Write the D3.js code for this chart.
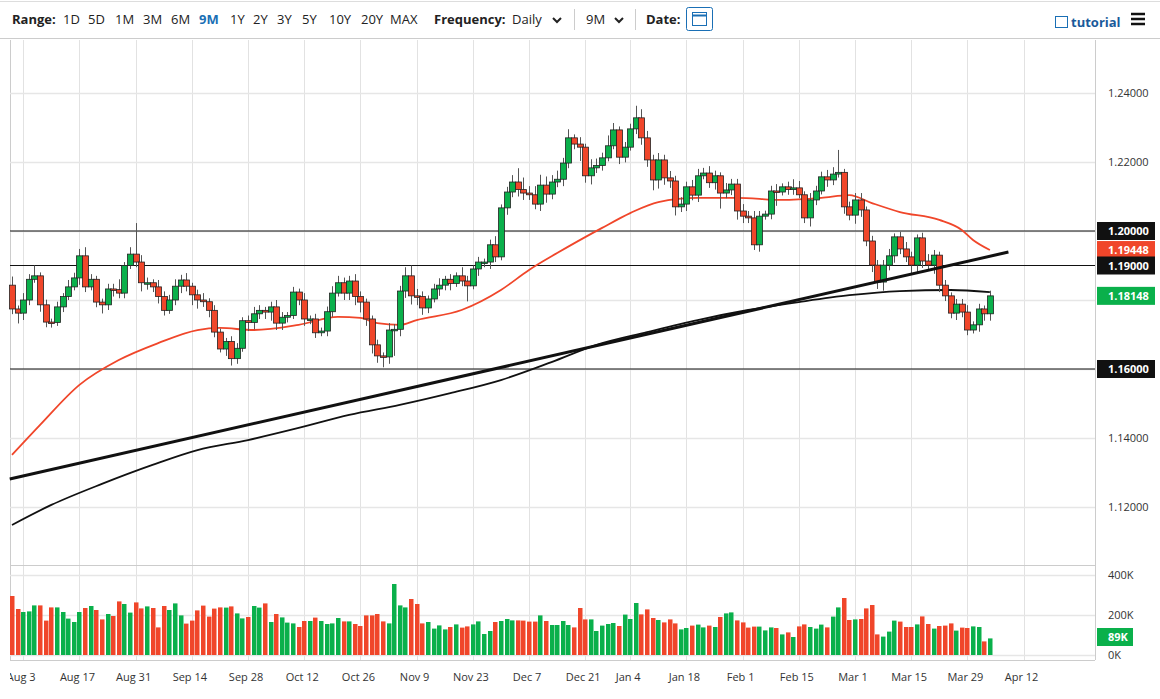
<!DOCTYPE html>
<html>
<head>
<meta charset="utf-8">
<script src="https://cdn.jsdelivr.net/npm/d3@7"></script>
<style>
  body { margin: 0; background: #fff; font-family: "Open Sans", sans-serif; }
  svg text { font-family: "Open Sans", sans-serif; }
</style>
</head>
<body>
<svg id="chart" width="1160" height="699"></svg>
<script>
// daily closes, EUR/USD, Jul 30 2020 .. Apr 2 2021 (trading days)
const firstOpen = 1.1843;
const closes = [
  1.1774, 1.1762, 1.1800, 1.1860, 1.1870, 1.1786, 1.1736, 1.1735, 1.1780, 1.1810,
  1.1838, 1.1864, 1.1928, 1.1838, 1.1860, 1.1794, 1.1786, 1.1832, 1.1830, 1.1820,
  1.1900, 1.1933, 1.1910, 1.1850, 1.1850, 1.1838, 1.1810, 1.1770, 1.1800, 1.1840,
  1.1858, 1.1840, 1.1815, 1.1800, 1.1795, 1.1770, 1.1707, 1.1658, 1.1680, 1.1630,
  1.1660, 1.1740, 1.1735, 1.1760, 1.1770, 1.1765, 1.1780, 1.1733, 1.1750, 1.1755,
  1.1823, 1.1800, 1.1745, 1.1745, 1.1705, 1.1710, 1.1766, 1.1820, 1.1850, 1.1820,
  1.1855, 1.1810, 1.1794, 1.1745, 1.1670, 1.1638, 1.1635, 1.1713, 1.1715, 1.1826,
  1.1870, 1.1812, 1.1810, 1.1777, 1.1803, 1.1832, 1.1843, 1.1860, 1.1848, 1.1870,
  1.1855, 1.1841, 1.1890, 1.1910, 1.1910, 1.1960, 1.1925, 1.2067, 1.2113, 1.2142,
  1.2120, 1.2110, 1.2105, 1.2078, 1.2133, 1.2107, 1.2142, 1.2150, 1.2197, 1.2270,
  1.2252, 1.2243, 1.2160, 1.2183, 1.2190, 1.2212, 1.2247, 1.2293, 1.2214, 1.2243,
  1.2296, 1.2328, 1.2270, 1.2206, 1.2148, 1.2206, 1.2154, 1.2145, 1.2070, 1.2078,
  1.2128, 1.2104, 1.2160, 1.2168, 1.2140, 1.2160, 1.2110, 1.2119, 1.2136, 1.2058,
  1.2043, 1.2038, 1.1960, 1.2043, 1.2049, 1.2116, 1.2113, 1.2128, 1.2120, 1.2125,
  1.2105, 1.2038, 1.2090, 1.2116, 1.2157, 1.2148, 1.2165, 1.2170, 1.2070, 1.2046,
  1.2090, 1.2061, 1.1971, 1.1901, 1.1852, 1.1901, 1.1928, 1.1983, 1.1948, 1.1925,
  1.1901, 1.1980, 1.1913, 1.1901, 1.1930, 1.1843, 1.1812, 1.1762, 1.1788, 1.1765,
  1.1713, 1.1728, 1.1774, 1.1760, 1.1812
];
// wick lengths beyond the body, in pips
const wickUp = [
  25, 10, 20, 15, 30, 10, 15, 10, 15, 10, 20, 15, 20, 25, 15, 10, 10, 15, 15, 30,
  10, 20, 90, 20, 15, 10, 20, 15, 15, 20, 15, 20, 10, 15, 20, 10, 15, 10, 10, 15,
  15, 10, 15, 20, 15, 10, 15, 20, 15, 10, 15, 10, 20, 10, 15, 10, 15, 20, 20, 15,
  15, 20, 15, 10, 10, 15, 10, 20, 15, 15, 25, 30, 20, 15, 10, 15, 20, 10, 15, 10,
  25, 15, 10, 15, 10, 15, 25, 10, 15, 20, 40, 35, 20, 25, 30, 25, 20, 25, 15, 25,
  10, 20, 10, 25, 20, 15, 30, 20, 10, 15, 15, 35, 25, 20, 15, 20, 15, 20, 15, 20,
  15, 20, 20, 15, 20, 15, 10, 20, 15, 15, 20, 15, 20, 15, 10, 15, 20, 10, 15, 25,
  20, 10, 20, 15, 15, 20, 20, 65, 10, 15, 20, 20, 10, 15, 15, 15, 20, 10, 15, 20,
  15, 10, 15, 20, 15, 10, 15, 10, 15, 15, 20, 10, 15, 10, 15
];
const wickDn = [
  15, 30, 20, 15, 10, 20, 15, 15, 10, 15, 10, 10, 20, 15, 10, 15, 25, 15, 20, 15,
  15, 10, 15, 25, 20, 15, 20, 15, 10, 15, 20, 15, 30, 25, 15, 20, 15, 10, 20, 20,
  15, 10, 25, 20, 15, 20, 25, 20, 20, 15, 10, 15, 20, 15, 15, 10, 15, 15, 10, 20,
  20, 25, 30, 20, 25, 20, 30, 20, 75, 20, 20, 25, 25, 20, 15, 10, 20, 15, 20, 10,
  15, 45, 10, 20, 15, 20, 15, 10, 20, 15, 20, 20, 15, 15, 20, 25, 15, 15, 20, 15,
  15, 40, 20, 25, 15, 15, 10, 10, 20, 15, 10, 15, 20, 20, 30, 25, 20, 20, 25, 15,
  20, 15, 20, 10, 15, 20, 45, 15, 15, 25, 20, 15, 15, 20, 10, 15, 40, 10, 15, 15,
  10, 15, 25, 15, 10, 20, 15, 10, 20, 15, 25, 20, 15, 20, 20, 25, 15, 20, 15, 15,
  25, 20, 20, 15, 25, 20, 15, 15, 20, 15, 15, 10, 20, 20, 20
];
// daily volume, thousands
const volumes = [
  295, 230, 215, 218, 248, 248, 172, 238, 238, 215, 182, 165, 215, 235, 245, 225, 178, 205, 195, 268,
  255, 212, 263, 233, 243, 235, 138, 245, 225, 258, 198, 157, 172, 223, 247, 192, 232, 238, 237, 243,
  208, 183, 190, 245, 237, 258, 165, 205, 188, 162, 158, 140, 170, 170, 187, 170, 155, 158, 185, 168,
  168, 155, 145, 198, 198, 205, 168, 158, 355, 248, 238, 280, 255, 158, 165, 132, 148, 128, 140, 153,
  137, 143, 153, 168, 105, 120, 165,
  170, 180, 173, 173, 172, 167, 167, 198, 170, 150, 150, 170, 150, 138, 235, 178, 178, 120, 147, 155,
  160, 145, 202, 180, 260, 203, 228, 185, 175, 163, 178, 158, 128, 135, 147, 152, 138, 147, 140, 190,
  208, 213, 173, 163, 137, 142, 142, 123, 138, 135, 103, 113, 90, 143, 153, 140, 132, 152, 138, 192,
  238, 285, 175, 178, 180, 233, 250, 103, 92, 117, 172, 167, 140, 140, 153, 193, 155, 132, 145, 147,
  158, 122, 137, 135, 143, 140, 68, 83
];
// moving averages sampled at candle index
const ma50Idx = [0, 5, 12, 19, 26, 33, 37, 43, 51, 58, 62, 65, 69, 72, 80, 87, 92, 97, 105, 110, 115, 122, 129, 137, 144, 149, 153, 158, 165, 169, 171, 174];
const ma50Val = [1.1351, 1.1438, 1.1554, 1.1626, 1.1675, 1.1713, 1.1719, 1.1713, 1.1728, 1.1751, 1.1748, 1.1733, 1.1728, 1.1742, 1.1771, 1.1829, 1.1887, 1.1936, 1.2009, 1.2052, 1.2084, 1.2096, 1.2096, 1.2090, 1.2096, 1.2104, 1.2081, 1.2055, 1.2032, 1.2003, 1.1974, 1.1945];
const ma200Idx = [0, 7, 16, 25, 33, 42, 51, 60, 69, 78, 87, 96, 104, 113, 122, 131, 140, 149, 158, 167, 174];
const ma200Val = [1.1148, 1.1206, 1.1267, 1.1322, 1.1365, 1.1394, 1.1429, 1.1467, 1.1496, 1.1530, 1.1568, 1.1620, 1.1670, 1.1707, 1.1742, 1.1771, 1.1794, 1.1814, 1.1826, 1.1829, 1.1823];
// hand-drawn trendline and horizontal levels
const trendIdx = [-0.4, 177.3];
const trendVal = [1.1281, 1.1939];
const levels = [1.20, 1.19, 1.16];
const priceTicks = [1.12, 1.14, 1.16, 1.18, 1.20, 1.22, 1.24];
const volTicks = [0, 200, 400];
const tickDates = ["2020-08-03", "2020-08-17", "2020-08-31", "2020-09-14", "2020-09-28", "2020-10-12", "2020-10-26",
  "2020-11-09", "2020-11-23", "2020-12-07", "2020-12-21", "2021-01-04", "2021-01-18", "2021-02-01",
  "2021-02-15", "2021-03-01", "2021-03-15", "2021-03-29", "2021-04-12"];
const holidays = ["2020-12-25", "2021-01-01"];
const rangeButtons = ["1D", "5D", "1M", "3M", "6M", "9M", "1Y", "2Y", "3Y", "5Y", "10Y", "20Y", "MAX"];

const GREEN = "#0ab04b", RED = "#f0462a";
const fmtDay = d3.timeFormat("%Y-%m-%d");

// trading day list (extends past last candle for axis room)
let tradingDays = [];
for (let d = new Date(2020, 6, 30); tradingDays.length < 200; d = d3.timeDay.offset(d, 1)) {
  let wd = d.getDay();
  if (wd === 0 || wd === 6 || holidays.includes(fmtDay(d))) continue;
  tradingDays.push(new Date(d));
}

const svg = d3.select("#chart");
const x = d3.scaleLinear().domain([0, 1]).range([12, 17.62]);
const y = d3.scaleLinear().domain([1.12, 1.24]).range([507, 93]);
const yv = d3.scaleLinear().domain([0, 400]).range([655, 575]);
const plotL = 10, plotR = 1095;

svg.append("clipPath").attr("id", "plotclip").append("rect").attr("x", plotL).attr("y", 39).attr("width", 1150).attr("height", 660);

// header
const hdr = svg.append("g").attr("font-size", 13);
hdr.append("line").attr("x1", 0).attr("x2", 1160).attr("y1", 38.5).attr("y2", 38.5).attr("stroke", "#ccc");
hdr.append("line").attr("x1", 0).attr("x2", 1160).attr("y1", 1.5).attr("y2", 1.5).attr("stroke", "#ddd");
hdr.append("text").attr("x", 12).attr("y", 24).attr("font-weight", "bold").attr("fill", "#222").text("Range:");
let bx = [63, 88, 115, 143, 171, 199, 230, 253, 277, 302, 329, 361, 390];
rangeButtons.forEach((b, i) => {
  hdr.append("text").attr("x", bx[i]).attr("y", 24).attr("fill", b === "9M" ? "#1a6fb5" : "#222")
    .attr("font-weight", b === "9M" ? "bold" : "normal").text(b);
});
hdr.append("text").attr("x", 434).attr("y", 24).attr("font-weight", "bold").attr("fill", "#222").text("Frequency:");
hdr.append("text").attr("x", 512).attr("y", 24).attr("fill", "#222").text("Daily");
hdr.append("path").attr("d", "M553,18 l4,4 l4,-4").attr("fill", "none").attr("stroke", "#222").attr("stroke-width", 2);
hdr.append("line").attr("x1", 574.5).attr("x2", 574.5).attr("y1", 9).attr("y2", 30).attr("stroke", "#ccc");
hdr.append("text").attr("x", 586).attr("y", 24).attr("fill", "#222").text("9M");
hdr.append("path").attr("d", "M615,18 l4,4 l4,-4").attr("fill", "none").attr("stroke", "#222").attr("stroke-width", 2);
hdr.append("line").attr("x1", 635.5).attr("x2", 635.5).attr("y1", 9).attr("y2", 30).attr("stroke", "#ccc");
hdr.append("text").attr("x", 646).attr("y", 24).attr("font-weight", "bold").attr("fill", "#222").text("Date:");
hdr.append("rect").attr("x", 686.5).attr("y", 7.5).attr("width", 26).attr("height", 23).attr("fill", "#fff").attr("stroke", "#1a6fb5").attr("rx", 2);
hdr.append("rect").attr("x", 692.5).attr("y", 12.5).attr("width", 14).attr("height", 13).attr("fill", "none").attr("stroke", "#1a6fb5");
hdr.append("line").attr("x1", 692).attr("x2", 707).attr("y1", 15.5).attr("y2", 15.5).attr("stroke", "#1a6fb5").attr("stroke-width", 2);
hdr.append("rect").attr("x", 1055.5).attr("y", 16.5).attr("width", 12).attr("height", 11).attr("fill", "none").attr("stroke", "#1a6fb5");
hdr.append("text").attr("x", 1071).attr("y", 27).attr("font-weight", "bold").attr("fill", "#1a5a9a").text("tutorial");
[14, 19, 24].forEach(v => hdr.append("line").attr("x1", 1131).attr("x2", 1145).attr("y1", v).attr("y2", v).attr("stroke", "#111").attr("stroke-width", 2.5));

// tags sit over these, so their plain tick labels are skipped
const lastClose = closes[closes.length - 1];
const tagged = [1.20, 1.19448, 1.19, lastClose, 1.16];

// frame and grid
const tickIdx = tickDates.map(s => tradingDays.findIndex(d => fmtDay(d) === s));
svg.append("line").attr("x1", plotL + 0.5).attr("x2", plotL + 0.5).attr("y1", 40).attr("y2", 660).attr("stroke", "#ccc");
tickIdx.forEach(i => {
  svg.append("line").attr("x1", Math.round(x(i)) + 0.5).attr("x2", Math.round(x(i)) + 0.5)
    .attr("y1", 40).attr("y2", 660).attr("stroke", "#e2e2e2");
});
priceTicks.forEach(p => {
  svg.append("line").attr("x1", plotL).attr("x2", plotR).attr("y1", Math.round(y(p)) + 0.5).attr("y2", Math.round(y(p)) + 0.5).attr("stroke", "#e6e6e6").attr("stroke-width", 1.5);
  if (tagged.some(t => Math.abs(y(t) - y(p)) < 16)) return;
  svg.append("text").attr("x", 1108).attr("y", y(p) + 4).attr("font-size", 11).attr("fill", "#333").text(p.toFixed(5));
});
svg.append("line").attr("x1", plotL).attr("x2", plotR).attr("y1", 565.5).attr("y2", 565.5).attr("stroke", "#ccc");
svg.append("line").attr("x1", plotL).attr("x2", plotR).attr("y1", 660.5).attr("y2", 660.5).attr("stroke", "#ccc");
volTicks.forEach(v => {
  svg.append("line").attr("x1", plotL).attr("x2", plotR).attr("y1", Math.round(yv(v)) + 0.5).attr("y2", Math.round(yv(v)) + 0.5).attr("stroke", "#e6e6e6").attr("stroke-width", 1.5);
  svg.append("text").attr("x", 1108).attr("y", yv(v) + 4).attr("font-size", 11).attr("fill", "#333").text(v + "K");
});
svg.append("line").attr("x1", plotR + 0.5).attr("x2", plotR + 0.5).attr("y1", 40).attr("y2", 660).attr("stroke", "#ccc");

// x axis labels
const fmtTick = d3.timeFormat("%b %-d");
const xl = svg.append("g").attr("clip-path", "url(#plotclip)");
tickIdx.forEach(i => {
  xl.append("text").attr("x", x(i) - 2).attr("y", 681).attr("text-anchor", "middle")
    .attr("font-size", 11).attr("fill", "#333").text(fmtTick(tradingDays[i]));
});

// horizontal levels
levels.forEach(p => {
  svg.append("line").attr("x1", plotL).attr("x2", plotR).attr("y1", y(p)).attr("y2", y(p)).attr("stroke", "#111").attr("stroke-width", 1.2);
});

// moving averages
const line = d3.line().curve(d3.curveMonotoneX);
svg.append("path").attr("d", line(ma200Idx.map((v, i) => [x(v), y(ma200Val[i])])))
  .attr("fill", "none").attr("stroke", "#111").attr("stroke-width", 1.8);
svg.append("path").attr("d", line(ma50Idx.map((v, i) => [x(v), y(ma50Val[i])])))
  .attr("fill", "none").attr("stroke", "#f0462a").attr("stroke-width", 1.8);

// candles
const candles = closes.map((c, i) => {
  let o = i === 0 ? firstOpen : closes[i - 1];
  return { i, o, c, h: Math.max(o, c) + wickUp[i] / 10000, l: Math.min(o, c) - wickDn[i] / 10000, up: c >= o };
});
const cg = svg.append("g").selectAll("g").data(candles).enter().append("g");
cg.append("line").attr("x1", d => Math.round(x(d.i)) + 0.5).attr("x2", d => Math.round(x(d.i)) + 0.5)
  .attr("y1", d => y(d.h)).attr("y2", d => y(d.l)).attr("stroke", "#555").attr("stroke-width", 1);
cg.append("rect").attr("x", d => Math.round(x(d.i)) - 2.5).attr("width", 6)
  .attr("y", d => y(Math.max(d.o, d.c))).attr("height", d => Math.max(1.5, Math.abs(y(d.o) - y(d.c))))
  .attr("fill", d => d.up ? GREEN : RED).attr("stroke", "#222").attr("stroke-width", 0.8);

// trendline
svg.append("line").attr("x1", x(trendIdx[0])).attr("y1", y(trendVal[0])).attr("x2", x(trendIdx[1])).attr("y2", y(trendVal[1]))
  .attr("stroke", "#111").attr("stroke-width", 3);

// volume bars
svg.append("g").selectAll("rect").data(candles).enter().append("rect")
  .attr("x", d => Math.round(x(d.i)) - 2).attr("width", 4.5)
  .attr("y", d => yv(volumes[d.i])).attr("height", d => yv(0) - yv(volumes[d.i]))
  .attr("fill", d => d.up ? GREEN : RED);

// right-side price tags
function tag(yy, txt, bg) {
  svg.append("rect").attr("x", 1097).attr("y", yy - 9).attr("width", 58).attr("height", 18).attr("fill", bg);
  svg.append("text").attr("x", 1108).attr("y", yy + 4).attr("font-size", 11).attr("font-weight", "bold").attr("fill", "#fff").text(txt);
}
tag(y(1.20), "1.20000", "#111");
tag(y(1.19448), "1.19448", RED);
tag(y(1.19), "1.19000", "#111");
tag(y(lastClose), "1.18148", GREEN);
tag(y(1.16), "1.16000", "#111");
svg.append("rect").attr("x", 1097).attr("y", 628).attr("width", 36).attr("height", 18).attr("fill", GREEN);
svg.append("text").attr("x", 1108).attr("y", 641).attr("font-size", 11).attr("font-weight", "bold").attr("fill", "#fff").text("89K");
</script>
</body>
</html>
